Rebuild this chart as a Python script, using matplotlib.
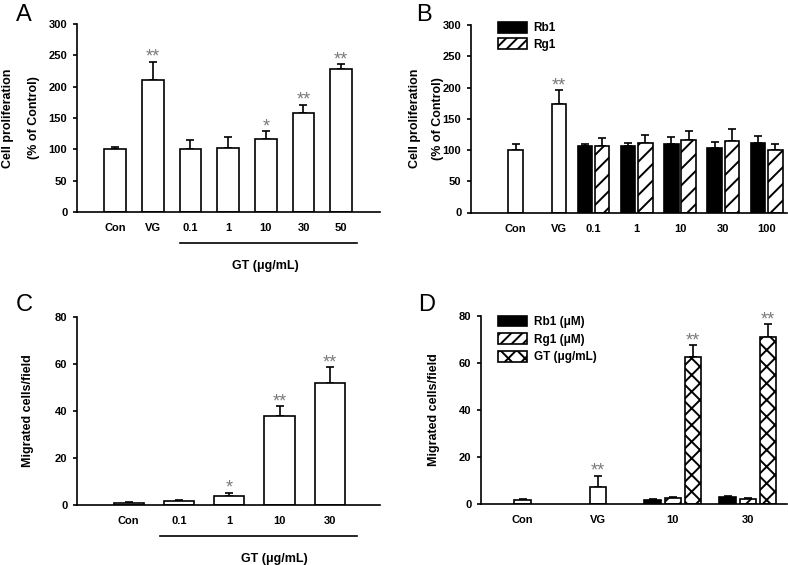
import matplotlib
matplotlib.use('Agg')
import matplotlib.pyplot as plt
import numpy as np
from matplotlib.patches import Patch

plt.rcParams['font.family'] = ['Liberation Sans', 'DejaVu Sans']
plt.rcParams['hatch.linewidth'] = 1.4

# Panel A: cell proliferation, GT dose
a_labels = ['Con', 'VG', '0.1', '1', '10', '30', '50']
a_mean = [100, 211, 101, 102, 117, 158, 228]
a_err = [4, 29, 14, 17, 12, 13, 8]
a_stars = ['', '**', '', '', '*', '**', '**']

# Panel B: cell proliferation, Rb1 / Rg1 dose
b_ctrl_labels = ['Con', 'VG']
b_ctrl_mean = [100, 174]
b_ctrl_err = [10, 22]
b_ctrl_stars = ['', '**']
b_dose_labels = ['0.1', '1', '10', '30', '100']
b_rb1_mean = [106, 107, 110, 104, 112]
b_rb1_err = [4, 5, 11, 9, 10]
b_rg1_mean = [107, 111, 116, 114, 100]
b_rg1_err = [12, 13, 14, 19, 9]

# Panel C: migration, GT dose
c_labels = ['Con', '0.1', '1', '10', '30']
c_mean = [1.0, 1.6, 3.8, 38, 52]
c_err = [0.4, 0.6, 1.4, 4, 6.6]
c_stars = ['', '', '*', '**', '**']

# Panel D: migration, Rb1 / Rg1 / GT
d_ctrl_labels = ['Con', 'VG']
d_ctrl_mean = [1.8, 7.2]
d_ctrl_err = [0.3, 4.8]
d_ctrl_stars = ['', '**']
d_dose_labels = ['10', '30']
d_rb1_mean = [1.7, 2.8]
d_rb1_err = [0.3, 0.8]
d_rg1_mean = [2.7, 2.0]
d_rg1_err = [0.3, 0.4]
d_gt_mean = [62.5, 71.2]
d_gt_err = [5, 5.3]
d_gt_stars = ['**', '**']

W, H = 788, 565
fig = plt.figure(figsize=(W / 100, H / 100), dpi=100)


def px_axes(l, t, r, b):
    return fig.add_axes([l / W, 1 - b / H, (r - l) / W, (b - t) / H])


EW = 1.2
STAR_C = '#7a7a7a'


def style(ax):
    for s in ['top', 'right']:
        ax.spines[s].set_visible(False)
    for s in ['left', 'bottom']:
        ax.spines[s].set_linewidth(1.2)
    ax.tick_params(axis='y', direction='out', length=3, width=1.2, pad=4, labelsize=8)
    ax.tick_params(axis='x', length=0, pad=8, labelsize=8)
    for lab in ax.get_xticklabels() + ax.get_yticklabels():
        lab.set_fontweight('bold')


def bars(ax, x, h, err, width, **kw):
    ax.bar(x, h, width, edgecolor='k', linewidth=EW, zorder=2, **kw)
    ax.errorbar(x, h, yerr=[np.zeros(len(h)), err], fmt='none', ecolor='k',
                elinewidth=EW, capsize=3, capthick=EW, zorder=1)


def stars(ax, x, h, err, s):
    for xi, hi, ei, si in zip(x, h, err, s):
        if si:
            ax.annotate(si, xy=(xi, hi + ei), xytext=(0, 0), textcoords='offset points',
                        ha='center', va='baseline', fontsize=13, color=STAR_C)


def ylab(ax, lines, xs, y=0.5):
    for t, xx in zip(lines, xs):
        ax.text(xx, y, t, rotation=90, ha='center', va='center', transform=ax.transAxes,
                fontsize=9, fontweight='bold')


def underline(ax, x0, x1, xt, txt):
    tr = ax.get_xaxis_transform()
    ax.plot([x0, x1], [-0.165, -0.165], color='k', lw=1.2, transform=tr, clip_on=False)
    ax.text(xt, -0.285, txt, transform=tr, ha='center', va='center', fontsize=9,
            fontweight='bold')


# ---- A
axA = px_axes(77, 24, 380, 212)
xa = np.arange(len(a_labels))
bars(axA, xa, a_mean, a_err, 0.58, facecolor='w')
stars(axA, xa, a_mean, a_err, a_stars)
axA.set_ylim(0, 300)
axA.set_yticks(np.arange(0, 301, 50))
axA.set_xlim(-1.01, 7.03)
axA.set_xticks(xa)
axA.set_xticklabels(a_labels)
style(axA)
ylab(axA, ['Cell proliferation', '(% of Control)'], [-0.228, -0.142])
underline(axA, 1.72, 6.42, 3.98, 'GT (μg/mL)')

# ---- B
axB = px_axes(471, 25, 787, 212.5)
off_b = 0.2
wb = 0.335
xb_ctrl = np.arange(len(b_ctrl_labels)) + off_b
xb_grp = np.arange(len(b_dose_labels)) + len(b_ctrl_labels)
bars(axB, xb_ctrl, b_ctrl_mean, b_ctrl_err, wb, facecolor='w')
stars(axB, xb_ctrl, b_ctrl_mean, b_ctrl_err, b_ctrl_stars)
bars(axB, xb_grp - off_b, b_rb1_mean, b_rb1_err, wb, facecolor='k')
bars(axB, xb_grp + off_b, b_rg1_mean, b_rg1_err, wb, facecolor='w', hatch='//')
axB.set_ylim(0, 300)
axB.set_yticks(np.arange(0, 301, 50))
axB.set_xlim(-0.83, 6.47)
axB.set_xticks(np.concatenate([xb_ctrl, xb_grp]))
axB.set_xticklabels(b_ctrl_labels + b_dose_labels)
style(axB)
ylab(axB, ['Cell proliferation', '(% of Control)'], [-0.177, -0.104])
axB.legend(handles=[Patch(facecolor='k', edgecolor='k', linewidth=EW),
                    Patch(facecolor='w', edgecolor='k', hatch='///', linewidth=EW)],
           labels=['Rb1', 'Rg1'], loc='upper left', bbox_to_anchor=(0.06, 1.06),
           frameon=False, handlelength=2.4, handleheight=1.0, labelspacing=0.35,
           handletextpad=0.6, borderpad=0.2,
           prop={'weight': 'bold', 'size': 8.5})

# ---- C
axC = px_axes(77, 317, 380, 505)
xc = np.arange(len(c_labels))
bars(axC, xc, c_mean, c_err, 0.6, facecolor='w')
stars(axC, xc, c_mean, c_err, c_stars)
axC.set_ylim(0, 80)
axC.set_yticks(np.arange(0, 81, 20))
axC.set_xlim(-1.03, 5.0)
axC.set_xticks(xc)
axC.set_xticklabels(c_labels)
style(axC)
ylab(axC, ['Migrated cells/field'], [-0.162])
underline(axC, 0.62, 4.54, 2.9, 'GT (μg/mL)')

# ---- D
axD = px_axes(481, 316, 787, 504)
off_d = 0.27
wd = 0.22
xd_ctrl = np.arange(len(d_ctrl_labels))
xd_grp = np.arange(len(d_dose_labels)) + len(d_ctrl_labels)
bars(axD, xd_ctrl, d_ctrl_mean, d_ctrl_err, wd, facecolor='w')
stars(axD, xd_ctrl, d_ctrl_mean, d_ctrl_err, d_ctrl_stars)
bars(axD, xd_grp - off_d, d_rb1_mean, d_rb1_err, wd, facecolor='k')
bars(axD, xd_grp, d_rg1_mean, d_rg1_err, wd, facecolor='w', hatch='//')
bars(axD, xd_grp + off_d, d_gt_mean, d_gt_err, wd, facecolor='w', hatch='xx')
stars(axD, xd_grp + off_d, d_gt_mean, d_gt_err, d_gt_stars)
axD.set_ylim(0, 80)
axD.set_yticks(np.arange(0, 81, 20))
axD.set_xlim(-0.556, 3.52)
axD.set_xticks(np.concatenate([xd_ctrl, xd_grp]))
axD.set_xticklabels(d_ctrl_labels + d_dose_labels)
style(axD)
ylab(axD, ['Migrated cells/field'], [-0.154])
axD.legend(handles=[Patch(facecolor='k', edgecolor='k', linewidth=EW),
                    Patch(facecolor='w', edgecolor='k', hatch='///', linewidth=EW),
                    Patch(facecolor='w', edgecolor='k', hatch='xx', linewidth=EW)],
           labels=['Rb1 (μM)', 'Rg1 (μM)', 'GT (μg/mL)'], loc='upper left',
           bbox_to_anchor=(0.03, 1.045), frameon=False, handlelength=2.4,
           handleheight=1.0, labelspacing=0.45, handletextpad=0.6, borderpad=0.2,
           prop={'weight': 'bold', 'size': 8.5})

# panel letters
for letter, (lx, ly) in zip('ABCD', [(16, 4), (416, 4), (16, 294), (418, 294)]):
    fig.text(lx / W, 1 - ly / H, letter, fontsize=17, ha='left', va='top')

fig.savefig('out.png', dpi=100)
